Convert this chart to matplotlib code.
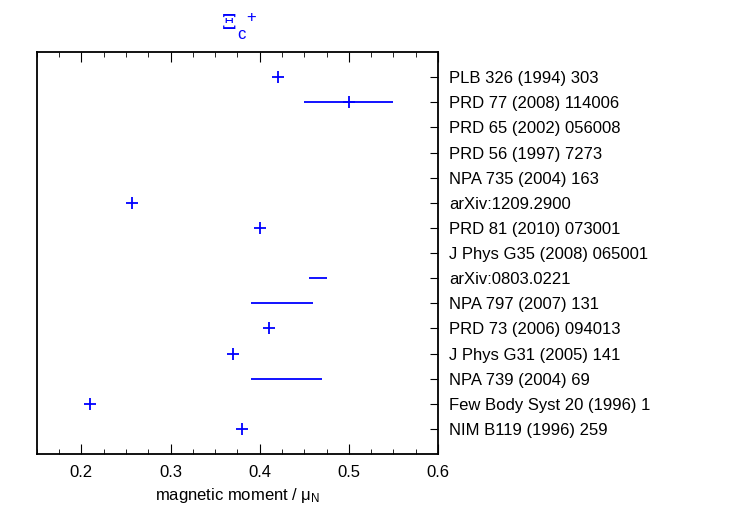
import numpy as np
import matplotlib.pyplot as plt
from matplotlib.ticker import MultipleLocator

plt.rcParams['font.family'] = ['Liberation Sans', 'DejaVu Sans']
plt.rcParams['mathtext.fontset'] = 'custom'
plt.rcParams['mathtext.rm'] = 'Liberation Sans'
plt.rcParams['mathtext.it'] = 'Liberation Sans:italic'

refs = ["PLB 326 (1994) 303", "PRD 77 (2008) 114006", "PRD 65 (2002) 056008",
        "PRD 56 (1997) 7273", "NPA 735 (2004) 163", "arXiv:1209.2900",
        "PRD 81 (2010) 073001", "J Phys G35 (2008) 065001", "arXiv:0803.0221",
        "NPA 797 (2007) 131", "PRD 73 (2006) 094013", "J Phys G31 (2005) 141",
        "NPA 739 (2004) 69", "Few Body Syst 20 (1996) 1", "NIM B119 (1996) 259"]

# point values (row index, value, error)
pt_rows = [1, 2, 6, 7, 11, 12, 14, 15]
pt_vals = [0.42, 0.50, 0.257, 0.40, 0.41, 0.37, 0.21, 0.38]
pt_errs = [0.0, 0.05, 0.0, 0.0, 0.0, 0.0, 0.0, 0.0]

# ranges without central value
rng_rows = [9, 10, 13]
rng_lo = [0.455, 0.39, 0.39]
rng_hi = [0.476, 0.46, 0.47]

fig = plt.figure(figsize=(7.5, 5.25), dpi=100)
ax = fig.add_axes([0.049, 0.135, 0.535, 0.766])

ax.errorbar(pt_vals, pt_rows, xerr=pt_errs, fmt='+', color='blue', ms=9, mew=1.3,
            elinewidth=1.3, capsize=0)
ax.hlines(rng_rows, rng_lo, rng_hi, color='blue', lw=1.3)

ax.set_xlim(0.15, 0.6)
ax.set_ylim(16, 0)
ax.xaxis.set_minor_locator(MultipleLocator(0.025))
ax.set_xticks([0.2, 0.3, 0.4, 0.5, 0.6])
ax.set_xticklabels(["0.2", "0.3", "0.4", "0.5", "0.6"])
ax.tick_params(axis='x', which='both', direction='in', top=True, labelsize=12, pad=8)
ax.tick_params(axis='x', which='major', length=7)
ax.tick_params(axis='x', which='minor', length=3.5)

ax.yaxis.tick_right()
ax.set_yticks(range(1, 16))
ax.set_yticklabels(refs)
ax.tick_params(axis='y', direction='in', left=False, right=True, length=6, labelsize=12, pad=8)

for s in ax.spines.values():
    s.set_linewidth(1.3)

ax.set_xlabel("magnetic moment / μ$_\\mathrm{N}$", fontsize=12)
fig.text(0.296, 0.955, "Ξ", color='blue', fontsize=15, ha='left', va='center',
         family='DejaVu Serif')
fig.text(0.317, 0.935, "c", color='blue', fontsize=12, ha='left', va='center')
fig.text(0.328, 0.967, "+", color='blue', fontsize=12, ha='left', va='center')

fig.savefig("out.png", dpi=100)
